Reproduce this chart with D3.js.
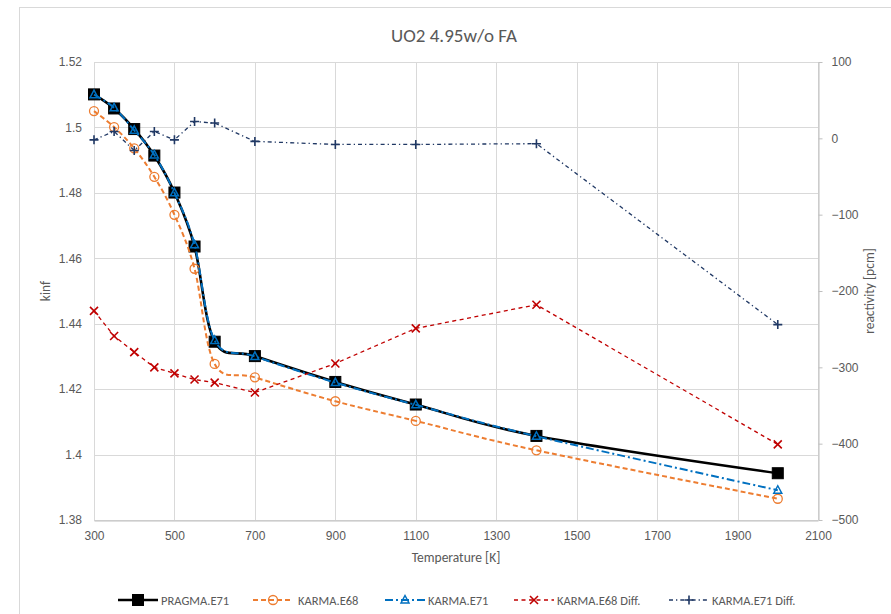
<!DOCTYPE html>
<html>
<head>
<meta charset="utf-8">
<script src="https://cdn.jsdelivr.net/npm/d3@7"></script>
<style>
  html, body { margin: 0; padding: 0; background: #fff; }
  svg { display: block; font-family: Carlito, Calibri, Lato, sans-serif; }
</style>
</head>
<body>
<svg id="chart" width="891" height="614"></svg>
<script>
// ---- data ----
const temperatures = [300, 350, 400, 450, 500, 550, 600, 700, 900, 1100, 1400, 2000];
const pragmaE71 = [1.5101, 1.5058, 1.4995, 1.4914, 1.4801, 1.4636, 1.4345, 1.4301, 1.4222, 1.4153, 1.4057, 1.3943];
const karmaE68 = [1.5050, 1.5001, 1.4936, 1.4849, 1.4733, 1.4568, 1.4277, 1.4236, 1.4163, 1.4103, 1.4013, 1.3865];
const karmaE71 = [1.5100, 1.5060, 1.4991, 1.4916, 1.4800, 1.4641, 1.4349, 1.4300, 1.4220, 1.4152, 1.4056, 1.3891];
const karmaE68Diff = [-226, -259, -280, -300, -308, -316, -320, -333, -295, -249, -218, -401];
const karmaE71Diff = [-2, 9, -16, 9, -2, 22, 20, -4, -8, -8, -7, -244];
const xTicks = [300, 500, 700, 900, 1100, 1300, 1500, 1700, 1900, 2100];
const yLeftTicks = [1.38, 1.40, 1.42, 1.44, 1.46, 1.48, 1.50, 1.52];
const yRightTicks = [-500, -400, -300, -200, -100, 0, 100];
const chartTitle = "UO2 4.95w/o FA";
const xTitle = "Temperature [K]";
const yLeftTitle = "kinf";
const yRightTitle = "reactivity [pcm]";

// ---- layout ----
const svg = d3.select("#chart");
const plot = { left: 94, right: 818, top: 62, bottom: 520 };
const textColor = "#595959";
const gridColor = "#d9d9d9";
const axisColor = "#bfbfbf";

const x = d3.scaleLinear().domain([300, 2100]).range([plot.left, plot.right]);
const yL = d3.scaleLinear().domain([1.38, 1.52]).range([plot.bottom, plot.top]);
const yR = d3.scaleLinear().domain([-500, 100]).range([plot.bottom, plot.top]);

// chart border
svg.append("rect").attr("x", 19.5).attr("y", 7.5).attr("width", 900).attr("height", 700)
  .attr("fill", "#fff").attr("stroke", gridColor).attr("stroke-width", 1);

// gridlines
const grid = svg.append("g");
grid.selectAll("line.h").data(yLeftTicks).join("line")
  .attr("x1", plot.left).attr("x2", plot.right)
  .attr("y1", d => Math.round(yL(d)) + 0.5).attr("y2", d => Math.round(yL(d)) + 0.5)
  .attr("stroke", gridColor).attr("stroke-width", 1);
grid.selectAll("line.v").data(xTicks).join("line")
  .attr("y1", plot.top).attr("y2", plot.bottom)
  .attr("x1", d => Math.round(x(d)) + 0.5).attr("x2", d => Math.round(x(d)) + 0.5)
  .attr("stroke", gridColor).attr("stroke-width", 1);

// bottom axis
const xAxis = svg.append("g").attr("transform", `translate(0,${plot.bottom + 0.5})`)
  .call(d3.axisBottom(x).tickValues(xTicks).tickSize(0).tickPadding(11).tickFormat(d3.format("d")));
xAxis.select(".domain").attr("stroke", axisColor);
xAxis.selectAll("text").attr("fill", textColor).style("font-size", "12px");

// left axis (labels only)
const yAxisL = svg.append("g").attr("transform", `translate(${plot.left},0)`)
  .call(d3.axisLeft(yL).tickValues(yLeftTicks).tickSize(0).tickPadding(12)
    .tickFormat(d => d3.format(".2~f")(d)));
yAxisL.select(".domain").remove();
yAxisL.selectAll("text").attr("fill", textColor).style("font-size", "12px");

// right axis
const yAxisR = svg.append("g").attr("transform", `translate(${plot.right + 0.5},0)`)
  .call(d3.axisRight(yR).tickValues(yRightTicks).tickSize(4).tickPadding(9).tickSizeOuter(0));
yAxisR.select(".domain").attr("stroke", axisColor);
yAxisR.selectAll(".tick line").attr("stroke", axisColor);
yAxisR.selectAll("text").attr("fill", textColor).style("font-size", "12px");

// titles
svg.append("text").attr("x", 454).attr("y", 35).attr("text-anchor", "middle")
  .attr("dominant-baseline", "central").attr("fill", textColor).style("font-size", "19px").text(chartTitle);
svg.append("text").attr("x", (plot.left + plot.right) / 2).attr("y", 557).attr("text-anchor", "middle")
  .attr("dominant-baseline", "central").attr("fill", textColor).style("font-size", "13.5px").text(xTitle);
svg.append("text").attr("transform", `translate(45,${(plot.top + plot.bottom) / 2}) rotate(-90)`)
  .attr("text-anchor", "middle").attr("dominant-baseline", "central")
  .attr("fill", textColor).style("font-size", "13.5px").text(yLeftTitle);
svg.append("text").attr("transform", `translate(869,${(plot.top + plot.bottom) / 2}) rotate(-90)`)
  .attr("text-anchor", "middle").attr("dominant-baseline", "central")
  .attr("fill", textColor).style("font-size", "13.5px").text(yRightTitle);

// ---- marker drawers ----
function drawMarker(g, type, color, cx, cy) {
  if (type === "square") {
    g.append("rect").attr("x", cx - 5.5).attr("y", cy - 5.5).attr("width", 11).attr("height", 11)
      .attr("fill", color).attr("stroke", color).attr("stroke-width", 1);
  } else if (type === "triangle") {
    g.append("path").attr("d", `M${cx},${cy - 4.5}L${cx + 4},${cy + 3}L${cx - 4},${cy + 3}Z`)
      .attr("fill", "none").attr("stroke", color).attr("stroke-width", 1.5);
  } else if (type === "circle") {
    g.append("circle").attr("cx", cx).attr("cy", cy).attr("r", 4.5)
      .attr("fill", "none").attr("stroke", color).attr("stroke-width", 1.3);
  } else if (type === "x") {
    g.append("path").attr("d", `M${cx - 4},${cy - 4}L${cx + 4},${cy + 4}M${cx - 4},${cy + 4}L${cx + 4},${cy - 4}`)
      .attr("stroke", color).attr("stroke-width", 1.6).attr("fill", "none");
  } else if (type === "plus") {
    g.append("path").attr("d", `M${cx - 4.5},${cy}L${cx + 4.5},${cy}M${cx},${cy - 4.5}L${cx},${cy + 4.5}`)
      .attr("stroke", color).attr("stroke-width", 1.6).attr("fill", "none");
  }
}

const series = [
  { name: "PRAGMA.E71", values: pragmaE71, axis: yL, color: "#000000", width: 2.6, dash: null, marker: "square", smooth: true },
  { name: "KARMA.E68", values: karmaE68, axis: yL, color: "#ED7D31", width: 2, dash: "5,3", marker: "circle", smooth: true },
  { name: "KARMA.E71", values: karmaE71, axis: yL, color: "#0070C0", width: 2, dash: "8,3,2,3", marker: "triangle", smooth: true },
  { name: "KARMA.E68 Diff.", values: karmaE68Diff, axis: yR, color: "#C00000", width: 1.3, dash: "4,3.5", marker: "x", smooth: false },
  { name: "KARMA.E71 Diff.", values: karmaE71Diff, axis: yR, color: "#203864", width: 1.3, dash: "4,3,1.3,3", marker: "plus", smooth: false }
];

series.forEach(s => {
  const g = svg.append("g");
  const pts = temperatures.map((t, i) => [x(t), s.axis(s.values[i])]);
  const line = d3.line().curve(s.smooth ? d3.curveCardinal.tension(0) : d3.curveLinear);
  g.append("path").attr("d", line(pts)).attr("fill", "none")
    .attr("stroke", s.color).attr("stroke-width", s.width)
    .attr("stroke-dasharray", s.dash).attr("stroke-linejoin", "round");
  pts.forEach(p => drawMarker(g, s.marker, s.color, p[0], p[1]));
});

// ---- legend ----
const legendY = 600;
const legendItems = [
  { lx: 118, tx: 161 },
  { lx: 253, tx: 298 },
  { lx: 385, tx: 428 },
  { lx: 514, tx: 557 },
  { lx: 669, tx: 712 }
];
series.forEach((s, i) => {
  const g = svg.append("g");
  const li = legendItems[i];
  g.append("line").attr("x1", li.lx).attr("x2", li.lx + 40).attr("y1", legendY).attr("y2", legendY)
    .attr("stroke", s.color).attr("stroke-width", s.width).attr("stroke-dasharray", s.dash);
  drawMarker(g, s.marker, s.color, li.lx + 20, legendY);
  g.append("text").attr("x", li.tx).attr("y", legendY).attr("dominant-baseline", "central")
    .attr("fill", textColor).style("font-size", "12.5px").text(s.name);
});
</script>
</body>
</html>
